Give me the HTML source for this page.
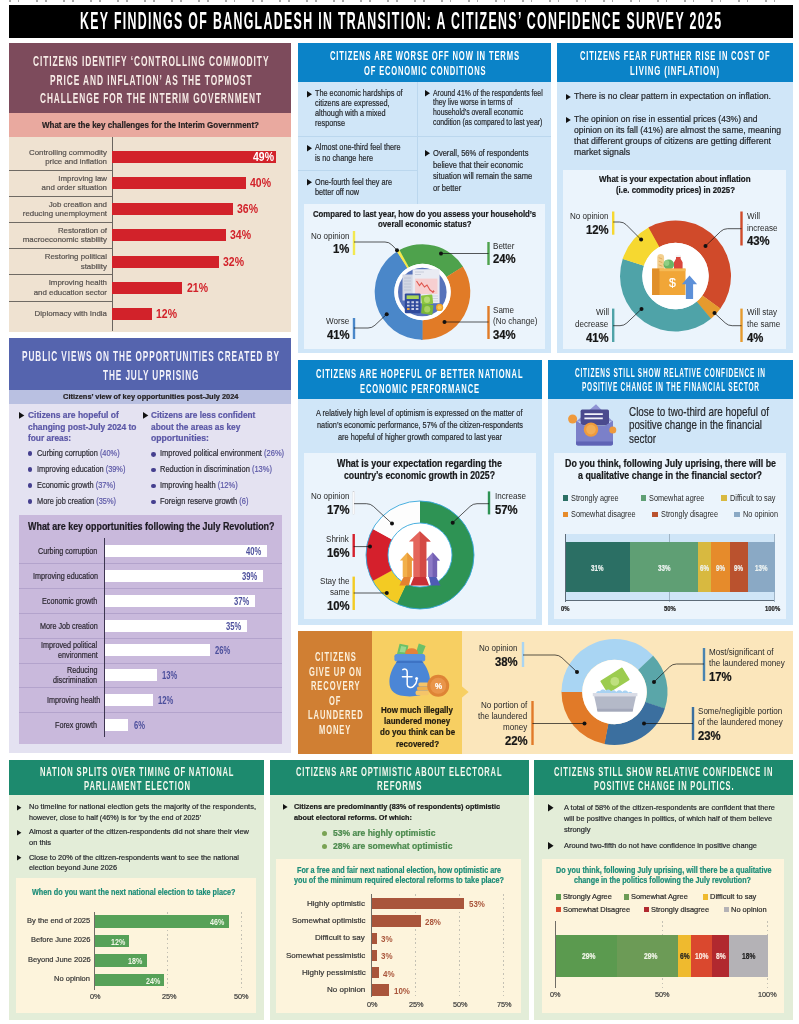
<!DOCTYPE html>
<html lang="en">
<head>
<meta charset="utf-8">
<title>Key Findings of Bangladesh in Transition: A Citizens' Confidence Survey 2025</title>
<style>
html,body{margin:0;padding:0;background:#fff;}
body{width:799px;height:1024px;overflow:hidden;font-family:"Liberation Sans",sans-serif;}
#page{position:relative;width:799px;height:1024px;overflow:hidden;background:#fff;}
#page section,#page header,#page .b,#page .t,#page .g{position:absolute;display:block;margin:0;padding:0;}
#page .t{white-space:pre;line-height:1;transform-origin:0 50%;font-weight:400;-webkit-text-stroke:0.2px currentColor;}
#page .t.k{-webkit-text-stroke:0.22px currentColor;}
#page .t.h{-webkit-text-stroke:0;}
#page svg.b{overflow:visible;}
</style>
</head>
<body>
<div id="page">
<div class="b" style="left:9px;top:0;width:783px;height:2px;opacity:.5;background:repeating-linear-gradient(90deg,#555 0 2px,transparent 2px 9px,#555 9px 10.500px,transparent 10.500px 27px)"></div>
<header class="panel" style="left:9px;top:5px;width:783.5px;height:32.5px;background:#000;">
<h1 class="t h" style="left:71px;top:4.14px;font-size:24.4px;color:#fff;font-weight:700;letter-spacing:2.6px;transform:scaleX(0.5072)">KEY FINDINGS OF BANGLADESH IN TRANSITION: A CITIZENS’ CONFIDENCE SURVEY 2025</h1>
</header>
<section class="panel" style="left:9px;top:43px;width:282.2px;height:288.5px;background:#efe2d1;">
<div class="b" style="left:0px;top:0px;width:282.2px;height:70.2px;background:#7d4b5c;"></div>
<span class="t h" style="left:23.5px;top:9.86px;font-size:15.2px;color:#f6ebe6;font-weight:700;letter-spacing:1.7px;transform:scaleX(0.5513)">CITIZENS IDENTIFY ‘CONTROLLING COMMODITY</span>
<span class="t h" style="left:40.5px;top:28.56px;font-size:15.2px;color:#f6ebe6;font-weight:700;letter-spacing:1.7px;transform:scaleX(0.5496)">PRICE AND INFLATION’ AS THE TOPMOST</span>
<span class="t h" style="left:31px;top:46.96px;font-size:15.2px;color:#f6ebe6;font-weight:700;letter-spacing:1.7px;transform:scaleX(0.5462)">CHALLENGE FOR THE INTERIM GOVERNMENT</span>
<div class="b" style="left:0px;top:70.2px;width:282.2px;height:23.4px;background:#e9a99f;"></div>
<div class="t k" style="left:33px;top:76.81px;font-size:9.6px;color:#231f20;font-weight:700;transform:scaleX(0.8324)">What are the key challenges for the Interim Government?</div>
<div class="b" style="left:0px;top:126.6px;width:103px;height:0.8px;background:#6f6a64;"></div>
<div class="b" style="left:0px;top:152.6px;width:103px;height:0.8px;background:#6f6a64;"></div>
<div class="b" style="left:0px;top:178.6px;width:103px;height:0.8px;background:#6f6a64;"></div>
<div class="b" style="left:0px;top:204.6px;width:103px;height:0.8px;background:#6f6a64;"></div>
<div class="b" style="left:0px;top:230.6px;width:103px;height:0.8px;background:#6f6a64;"></div>
<div class="b" style="left:0px;top:257.6px;width:103px;height:0.8px;background:#6f6a64;"></div>
<div class="b" style="left:102.6px;top:93.6px;width:0.8px;height:194.9px;background:#6a645f;"></div>
<div class="b" style="left:103.4px;top:108px;width:164.09px;height:12.2px;background:#d2222a;"></div>
<div class="t k h" style="left:243.51px;top:108.27px;font-size:12.2px;color:#fff;font-weight:700;transform:scaleX(0.8600)">49%</div>
<div class="t" style="left:19.94px;top:105.6px;font-size:7.9px;color:#57524f">Controlling commodity</div>
<div class="t" style="left:36.14px;top:115.1px;font-size:7.9px;color:#57524f">price and inflation</div>
<div class="b" style="left:103.4px;top:134px;width:133.88px;height:12.2px;background:#d2222a;"></div>
<div class="t k h" style="left:241.28px;top:134.27px;font-size:12.2px;color:#d2222a;font-weight:700;transform:scaleX(0.8600)">40%</div>
<div class="t" style="left:49.31px;top:131.6px;font-size:7.9px;color:#57524f">Improving law</div>
<div class="t" style="left:32.62px;top:141.1px;font-size:7.9px;color:#57524f">and order situation</div>
<div class="b" style="left:103.4px;top:160.2px;width:120.45px;height:12.2px;background:#d2222a;"></div>
<div class="t k h" style="left:227.85px;top:160.47px;font-size:12.2px;color:#d2222a;font-weight:700;transform:scaleX(0.8600)">36%</div>
<div class="t" style="left:39.66px;top:157.8px;font-size:7.9px;color:#57524f">Job creation and</div>
<div class="t" style="left:13.78px;top:167.3px;font-size:7.9px;color:#57524f">reducing unemployment</div>
<div class="b" style="left:103.4px;top:186.2px;width:113.74px;height:12.2px;background:#d2222a;"></div>
<div class="t k h" style="left:221.14px;top:186.47px;font-size:12.2px;color:#d2222a;font-weight:700;transform:scaleX(0.8600)">34%</div>
<div class="t" style="left:48.88px;top:183.8px;font-size:7.9px;color:#57524f">Restoration of</div>
<div class="t" style="left:13.8px;top:193.3px;font-size:7.9px;color:#57524f">macroeconomic stability</div>
<div class="b" style="left:103.4px;top:212.7px;width:107.02px;height:12.2px;background:#d2222a;"></div>
<div class="t k h" style="left:214.42px;top:212.97px;font-size:12.2px;color:#d2222a;font-weight:700;transform:scaleX(0.8600)">32%</div>
<div class="t" style="left:35.72px;top:210.3px;font-size:7.9px;color:#57524f">Restoring political</div>
<div class="t" style="left:71.69px;top:219.8px;font-size:7.9px;color:#57524f">stability</div>
<div class="b" style="left:103.4px;top:238.7px;width:70.1px;height:12.2px;background:#d2222a;"></div>
<div class="t k h" style="left:177.5px;top:238.97px;font-size:12.2px;color:#d2222a;font-weight:700;transform:scaleX(0.8600)">21%</div>
<div class="t" style="left:39.66px;top:236.3px;font-size:7.9px;color:#57524f">Improving health</div>
<div class="t" style="left:24.73px;top:245.8px;font-size:7.9px;color:#57524f">and education sector</div>
<div class="b" style="left:103.4px;top:265px;width:39.88px;height:12.2px;background:#d2222a;"></div>
<div class="t k h" style="left:147.28px;top:265.27px;font-size:12.2px;color:#d2222a;font-weight:700;transform:scaleX(0.8600)">12%</div>
<div class="t" style="left:25.62px;top:267.4px;font-size:7.9px;color:#57524f">Diplomacy with India</div>
</section>
<section class="panel" style="left:9px;top:338px;width:282.2px;height:415.4px;background:#e4e2f1;">
<div class="b" style="left:0px;top:0px;width:282.2px;height:52px;background:#5564ae;"></div>
<span class="t h" style="left:13px;top:10.36px;font-size:15.2px;color:#f3f2fa;font-weight:700;letter-spacing:1.7px;transform:scaleX(0.5417)">PUBLIC VIEWS ON THE OPPORTUNITIES CREATED BY</span>
<span class="t h" style="left:93.5px;top:29.16px;font-size:15.2px;color:#f3f2fa;font-weight:700;letter-spacing:1.7px;transform:scaleX(0.5408)">THE JULY UPRISING</span>
<div class="b" style="left:0px;top:52px;width:282.2px;height:13.6px;background:#b9c0e1;"></div>
<div class="t k" style="left:53.5px;top:55.09px;font-size:7.4px;color:#231f20;font-weight:700;transform:scaleX(1.0078)">Citizens’ view of key opportunities post-July 2024</div>
<svg class="b" style="left:10px;top:74px" width="5.3" height="6.8" viewBox="0 0 5.3 6.8"><path d="M0 0L5.3 3.4L0 6.8Z" fill="#111"/></svg>
<div class="t k" style="left:18.5px;top:73.49px;font-size:8.6px;color:#5b57a6;font-weight:700;transform:scaleX(0.9853)">Citizens are hopeful of</div>
<div class="t k" style="left:18.5px;top:84.59px;font-size:8.6px;color:#5b57a6;font-weight:700;transform:scaleX(0.9793)">changing post-July 2024 to</div>
<div class="t k" style="left:18.5px;top:95.69px;font-size:8.6px;color:#5b57a6;font-weight:700;transform:scaleX(0.9702)">four areas:</div>
<div class="b" style="left:18.6px;top:113.4px;width:4.8px;height:4.8px;border-radius:50%;background:#453f8f"></div>
<div class="t" style="left:27.5px;top:111.44px;font-size:9.2px;color:#2b2a33;transform:scaleX(0.8050)">Curbing corruption <span style="color:#5b57a6">(40%)</span></div>
<div class="b" style="left:18.6px;top:129.3px;width:4.8px;height:4.8px;border-radius:50%;background:#453f8f"></div>
<div class="t" style="left:27.5px;top:127.34px;font-size:9.2px;color:#2b2a33;transform:scaleX(0.8050)">Improving education <span style="color:#5b57a6">(39%)</span></div>
<div class="b" style="left:18.6px;top:145.2px;width:4.8px;height:4.8px;border-radius:50%;background:#453f8f"></div>
<div class="t" style="left:27.5px;top:143.24px;font-size:9.2px;color:#2b2a33;transform:scaleX(0.8050)">Economic growth <span style="color:#5b57a6">(37%)</span></div>
<div class="b" style="left:18.6px;top:161.1px;width:4.8px;height:4.8px;border-radius:50%;background:#453f8f"></div>
<div class="t" style="left:27.5px;top:159.14px;font-size:9.2px;color:#2b2a33;transform:scaleX(0.8050)">More job creation <span style="color:#5b57a6">(35%)</span></div>
<svg class="b" style="left:134px;top:74px" width="5.3" height="6.8" viewBox="0 0 5.3 6.8"><path d="M0 0L5.3 3.4L0 6.8Z" fill="#111"/></svg>
<div class="t k" style="left:142px;top:73.49px;font-size:8.6px;color:#5b57a6;font-weight:700;transform:scaleX(0.9620)">Citizens are less confident</div>
<div class="t k" style="left:142px;top:84.59px;font-size:8.6px;color:#5b57a6;font-weight:700;transform:scaleX(0.9685)">about the areas as key</div>
<div class="t k" style="left:142px;top:95.69px;font-size:8.6px;color:#5b57a6;font-weight:700;transform:scaleX(1.0041)">opportunities:</div>
<div class="b" style="left:142.1px;top:113.8px;width:4.8px;height:4.8px;border-radius:50%;background:#453f8f"></div>
<div class="t" style="left:151px;top:111.44px;font-size:9.2px;color:#2b2a33;transform:scaleX(0.8180)">Improved political environment <span style="color:#5b57a6">(26%)</span></div>
<div class="b" style="left:142.1px;top:129.7px;width:4.8px;height:4.8px;border-radius:50%;background:#453f8f"></div>
<div class="t" style="left:151px;top:127.34px;font-size:9.2px;color:#2b2a33;transform:scaleX(0.8180)">Reduction in discrimination <span style="color:#5b57a6">(13%)</span></div>
<div class="b" style="left:142.1px;top:145.6px;width:4.8px;height:4.8px;border-radius:50%;background:#453f8f"></div>
<div class="t" style="left:151px;top:143.24px;font-size:9.2px;color:#2b2a33;transform:scaleX(0.8180)">Improving health <span style="color:#5b57a6">(12%)</span></div>
<div class="b" style="left:142.1px;top:161.5px;width:4.8px;height:4.8px;border-radius:50%;background:#453f8f"></div>
<div class="t" style="left:151px;top:159.14px;font-size:9.2px;color:#2b2a33;transform:scaleX(0.8180)">Foreign reserve growth <span style="color:#5b57a6">(6)</span></div>
<div class="b" style="left:10px;top:176.6px;width:263px;height:229.6px;background:#c9b9dc;"></div>
<div class="t k" style="left:18.5px;top:184.14px;font-size:10.4px;color:#1d1a22;font-weight:700;transform:scaleX(0.8591)">What are key opportunities following the July Revolution?</div>
<div class="b" style="left:10px;top:224.5px;width:263px;height:1px;background:#b3a3cc;"></div>
<div class="b" style="left:10px;top:249.5px;width:263px;height:1px;background:#b3a3cc;"></div>
<div class="b" style="left:10px;top:274.5px;width:263px;height:1px;background:#b3a3cc;"></div>
<div class="b" style="left:10px;top:299.5px;width:263px;height:1px;background:#b3a3cc;"></div>
<div class="b" style="left:10px;top:324.5px;width:263px;height:1px;background:#b3a3cc;"></div>
<div class="b" style="left:10px;top:349px;width:263px;height:1px;background:#b3a3cc;"></div>
<div class="b" style="left:10px;top:373.7px;width:263px;height:1px;background:#b3a3cc;"></div>
<div class="b" style="left:94.8px;top:200px;width:0.8px;height:199px;background:#3d3550;"></div>
<div class="b" style="left:95.6px;top:207px;width:162.4px;height:12px;background:#fff;"></div>
<div class="t k h" style="left:237.23px;top:208.17px;font-size:10.6px;color:#4c4f9c;font-weight:700;transform:scaleX(0.7200)">40%</div>
<div class="t" style="left:29.15px;top:209.07px;font-size:8.8px;color:#2b2730;transform:scaleX(0.8200)">Curbing corruption</div>
<div class="b" style="left:95.6px;top:231.8px;width:158.33px;height:12px;background:#fff;"></div>
<div class="t k h" style="left:233.16px;top:232.97px;font-size:10.6px;color:#4c4f9c;font-weight:700;transform:scaleX(0.7200)">39%</div>
<div class="t" style="left:23.53px;top:233.87px;font-size:8.8px;color:#2b2730;transform:scaleX(0.8200)">Improving education</div>
<div class="b" style="left:95.6px;top:257px;width:150.18px;height:12px;background:#fff;"></div>
<div class="t k h" style="left:225.01px;top:258.17px;font-size:10.6px;color:#4c4f9c;font-weight:700;transform:scaleX(0.7200)">37%</div>
<div class="t" style="left:33.16px;top:259.07px;font-size:8.8px;color:#2b2730;transform:scaleX(0.8200)">Economic growth</div>
<div class="b" style="left:95.6px;top:282px;width:142.03px;height:12px;background:#fff;"></div>
<div class="t k h" style="left:216.86px;top:283.17px;font-size:10.6px;color:#4c4f9c;font-weight:700;transform:scaleX(0.7200)">35%</div>
<div class="t" style="left:30.75px;top:284.07px;font-size:8.8px;color:#2b2730;transform:scaleX(0.8200)">More Job creation</div>
<div class="b" style="left:95.6px;top:306.3px;width:105.35px;height:12px;background:#fff;"></div>
<div class="t k h" style="left:206.45px;top:307.47px;font-size:10.6px;color:#4c4f9c;font-weight:700;transform:scaleX(0.7200)">26%</div>
<div class="t" style="left:32.37px;top:303.37px;font-size:8.8px;color:#2b2730;transform:scaleX(0.8200)">Improved political</div>
<div class="t" style="left:48.79px;top:312.67px;font-size:8.8px;color:#2b2730;transform:scaleX(0.8200)">environment</div>
<div class="b" style="left:95.6px;top:331.2px;width:52.38px;height:12px;background:#fff;"></div>
<div class="t k h" style="left:153.47px;top:332.37px;font-size:10.6px;color:#4c4f9c;font-weight:700;transform:scaleX(0.7200)">13%</div>
<div class="t" style="left:58.02px;top:328.27px;font-size:8.8px;color:#2b2730;transform:scaleX(0.8200)">Reducing</div>
<div class="t" style="left:44.4px;top:337.57px;font-size:8.8px;color:#2b2730;transform:scaleX(0.8200)">discrimination</div>
<div class="b" style="left:95.6px;top:356.2px;width:48.3px;height:12px;background:#fff;"></div>
<div class="t k h" style="left:149.4px;top:357.37px;font-size:10.6px;color:#4c4f9c;font-weight:700;transform:scaleX(0.7200)">12%</div>
<div class="t" style="left:38.16px;top:358.27px;font-size:8.8px;color:#2b2730;transform:scaleX(0.8200)">Improving health</div>
<div class="b" style="left:95.6px;top:381px;width:23.85px;height:12px;background:#fff;"></div>
<div class="t k h" style="left:124.95px;top:382.17px;font-size:10.6px;color:#4c4f9c;font-weight:700;transform:scaleX(0.7200)">6%</div>
<div class="t" style="left:46.4px;top:383.07px;font-size:8.8px;color:#2b2730;transform:scaleX(0.8200)">Forex growth</div>
</section>
<section class="panel" style="left:297.5px;top:43px;width:253.5px;height:310px;background:#d0e6f8;">
<div class="b" style="left:0px;top:0px;width:253.5px;height:39px;background:#0b83c8;"></div>
<span class="t h" style="left:32.5px;top:6.17px;font-size:13.6px;color:#fff;font-weight:700;letter-spacing:1.5px;transform:scaleX(0.5613)">CITIZENS ARE WORSE OFF NOW IN TERMS</span>
<span class="t h" style="left:66.5px;top:20.97px;font-size:13.6px;color:#fff;font-weight:700;letter-spacing:1.5px;transform:scaleX(0.5572)">OF ECONOMIC CONDITIONS</span>
<div class="b" style="left:0px;top:93.2px;width:253.5px;height:0.8px;background:#bbd7ee;"></div>
<div class="b" style="left:0px;top:126.8px;width:120px;height:0.8px;background:#bbd7ee;"></div>
<div class="b" style="left:119.6px;top:39px;width:0.8px;height:122px;background:#bbd7ee;"></div>
<svg class="b" style="left:9.4px;top:47.6px" width="5" height="6.4" viewBox="0 0 5 6.4"><path d="M0 0L5 3.2L0 6.4Z" fill="#111"/></svg>
<div class="t" style="left:17px;top:46.23px;font-size:8.7px;color:#26282c;transform:scaleX(0.8400)">The economic hardships of</div>
<div class="t" style="left:17px;top:56.13px;font-size:8.7px;color:#26282c;transform:scaleX(0.8400)">citizens are expressed,</div>
<div class="t" style="left:17px;top:65.93px;font-size:8.7px;color:#26282c;transform:scaleX(0.8400)">although with a mixed</div>
<div class="t" style="left:17px;top:75.73px;font-size:8.7px;color:#26282c;transform:scaleX(0.8400)">response</div>
<svg class="b" style="left:9.4px;top:101.7px" width="5" height="6.4" viewBox="0 0 5 6.4"><path d="M0 0L5 3.2L0 6.4Z" fill="#111"/></svg>
<div class="t" style="left:17px;top:100.33px;font-size:8.7px;color:#26282c;transform:scaleX(0.8400)">Almost one-third feel there</div>
<div class="t" style="left:17px;top:110.53px;font-size:8.7px;color:#26282c;transform:scaleX(0.8400)">is no change here</div>
<svg class="b" style="left:9.4px;top:136.3px" width="5" height="6.4" viewBox="0 0 5 6.4"><path d="M0 0L5 3.2L0 6.4Z" fill="#111"/></svg>
<div class="t" style="left:17px;top:134.93px;font-size:8.7px;color:#26282c;transform:scaleX(0.8400)">One-fourth feel they are</div>
<div class="t" style="left:17px;top:145.33px;font-size:8.7px;color:#26282c;transform:scaleX(0.8400)">better off now</div>
<svg class="b" style="left:127.9px;top:47.3px" width="5" height="6.4" viewBox="0 0 5 6.4"><path d="M0 0L5 3.2L0 6.4Z" fill="#111"/></svg>
<div class="t" style="left:135.5px;top:45.99px;font-size:8.6px;color:#26282c;transform:scaleX(0.8000)">Around 41% of the respondents feel</div>
<div class="t" style="left:135.5px;top:55.49px;font-size:8.6px;color:#26282c;transform:scaleX(0.8000)">they live worse in terms of</div>
<div class="t" style="left:135.5px;top:64.99px;font-size:8.6px;color:#26282c;transform:scaleX(0.8000)">household’s overall economic</div>
<div class="t" style="left:135.5px;top:74.59px;font-size:8.6px;color:#26282c;transform:scaleX(0.8000)">condition (as compared to last year)</div>
<svg class="b" style="left:127.9px;top:107.3px" width="5" height="6.4" viewBox="0 0 5 6.4"><path d="M0 0L5 3.2L0 6.4Z" fill="#111"/></svg>
<div class="t" style="left:135.5px;top:105.87px;font-size:8.8px;color:#26282c;transform:scaleX(0.8600)">Overall, 56% of respondents</div>
<div class="t" style="left:135.5px;top:117.67px;font-size:8.8px;color:#26282c;transform:scaleX(0.8600)">believe that their economic</div>
<div class="t" style="left:135.5px;top:129.47px;font-size:8.8px;color:#26282c;transform:scaleX(0.8600)">situation will remain the same</div>
<div class="t" style="left:135.5px;top:140.97px;font-size:8.8px;color:#26282c;transform:scaleX(0.8600)">or better</div>
<div class="b" style="left:6.5px;top:161px;width:241px;height:144.5px;background:#ebf4fc;"></div>
<div class="t k" style="left:15.5px;top:165.57px;font-size:9.5px;color:#17181a;font-weight:700;transform:scaleX(0.8165)">Compared to last year, how do you assess your household’s</div>
<div class="t k" style="left:80px;top:176.47px;font-size:9.5px;color:#17181a;font-weight:700;transform:scaleX(0.8198)">overall economic status?</div>
<svg class="b" style="left:6.5px;top:161px;" width="241" height="144.5" viewBox="304 204 241 144.5"><path d="M422.5 339.8A47.8 47.8 0 0 1 397.17 251.46L407.56 268.09A28.2 28.2 0 0 0 422.5 320.2Z" fill="#4a87c9" /><path d="M396.89 251.64A47.8 47.8 0 0 1 399.77 249.95L409.09 267.19A28.2 28.2 0 0 0 407.39 268.19Z" fill="#f4e84a" /><path d="M399.47 250.11A47.8 47.8 0 0 1 463.04 266.67L446.41 277.06A28.2 28.2 0 0 0 408.91 267.29Z" fill="#4ea24c" /><path d="M462.86 266.39A47.8 47.8 0 0 1 422.17 339.8L422.3 320.2A28.2 28.2 0 0 0 446.31 276.89Z" fill="#e17b27" /><path d="M422.5 339.8A47.8 47.8 0 0 1 420.83 339.77L421.52 320.18A28.2 28.2 0 0 0 422.5 320.2Z" fill="#4a87c9" /><circle cx="422.5" cy="292" r="28.2" fill="#fff"/><g><circle cx="422.3" cy="292" r="24.3" fill="#5672ba"/><path d="M402.5 274.5h11v26h-11z" fill="#d3d7e4"/><path d="M404 278h7M404 281h7M404 284h7M404 287h7M404 290h7" stroke="#b9bfd2" stroke-width=".8"/><path d="M412.6 269.2h27v34h-27z" fill="#e9ebf3"/><path d="M415 272h9M415 274.5h6" stroke="#c3c8d8" stroke-width=".9"/><path d="M415 278.6h22.5v15.4H415z" fill="#f6cfd0"/><path d="M416.5 281l3 4.5 2-2.5 3 4 2.5-2 3 5 3.5 2.5" fill="none" stroke="#e0564f" stroke-width="1.1"/><path d="M434.8 291.5l-2.8 1.6 1.2-3.2z" fill="#e0564f"/><path d="M432 296h6M432 298.5h6M432 301h6" stroke="#c8ccda" stroke-width=".8"/><rect x="404.8" y="293.4" width="15.8" height="19.8" rx="1.2" fill="#2f4a9b"/><rect x="406.6" y="295.4" width="12.2" height="3.6" fill="#a9d456"/><path d="M407 302.2h2.6M411.4 302.2h2.6M415.8 302.2h2.6M407 305.6h2.6M411.4 305.6h2.6M415.8 305.6h2.6M411.4 309h2.6M415.8 309h2.6" stroke="#c9cfe6" stroke-width="1.9"/><path d="M407 309h2.6" stroke="#f3a93c" stroke-width="1.9"/><rect x="421.4" y="295" width="11.4" height="9.6" rx="1" fill="#8cc540" transform="rotate(-6 427 300)"/><rect x="421.6" y="304.4" width="11.4" height="9.8" rx="1" fill="#7ab738" transform="rotate(7 427 309)"/><ellipse cx="427" cy="299.8" rx="3" ry="3.2" fill="#b6dc73"/><ellipse cx="427.2" cy="309.2" rx="3" ry="3.2" fill="#a8d263"/><circle cx="439.6" cy="307.4" r="3.6" fill="#f4a428"/><circle cx="439.6" cy="307.4" r="2.1" fill="#f8c15a"/></g><rect x="352.8" y="231" width="2.4" height="24" fill="#f2e850"/><path d="M354 242L385 242Q389 242 391.79 244.86L397 250.2" fill="none" stroke="#111" stroke-width="0.7"/><circle cx="397" cy="250.2" r="2.0" fill="#111"/><rect x="487.3" y="242" width="2.4" height="23" fill="#4ea24c"/><path d="M488.5 253.5L441 253.5" fill="none" stroke="#111" stroke-width="0.7"/><circle cx="441" cy="253.5" r="2.0" fill="#111"/><rect x="352.8" y="318" width="2.4" height="21" fill="#4a87c9"/><path d="M354 328L368 328Q372 328 374.92 325.26L386.7 314.2" fill="none" stroke="#111" stroke-width="0.7"/><circle cx="386.7" cy="314.2" r="2.0" fill="#111"/><rect x="487.3" y="306" width="2.4" height="33" fill="#e17b27"/><path d="M488.5 322L444.5 322" fill="none" stroke="#111" stroke-width="0.7"/><circle cx="444.5" cy="322" r="2.0" fill="#111"/></svg>
<div class="t h" style="left:13.47px;top:187.81px;font-size:9.6px;color:#2a2a2a;transform:scaleX(0.8400)">No opinion</div>
<div class="t k" style="left:35.62px;top:200.07px;font-size:12.6px;color:#151515;font-weight:700;transform:scaleX(0.9000)">1%</div>
<div class="t h" style="left:195.5px;top:198.41px;font-size:9.6px;color:#2a2a2a;transform:scaleX(0.8400)">Better</div>
<div class="t k" style="left:195.5px;top:210.47px;font-size:12.6px;color:#151515;font-weight:700;transform:scaleX(0.9000)">24%</div>
<div class="t h" style="left:28.86px;top:273.41px;font-size:9.6px;color:#2a2a2a;transform:scaleX(0.8400)">Worse</div>
<div class="t k" style="left:29.3px;top:286.07px;font-size:12.6px;color:#151515;font-weight:700;transform:scaleX(0.9000)">41%</div>
<div class="t h" style="left:195.5px;top:262.41px;font-size:9.6px;color:#2a2a2a;transform:scaleX(0.8400)">Same</div>
<div class="t h" style="left:195.5px;top:273.01px;font-size:9.6px;color:#2a2a2a;transform:scaleX(0.8400)">(No change)</div>
<div class="t k" style="left:195.5px;top:286.07px;font-size:12.6px;color:#151515;font-weight:700;transform:scaleX(0.9000)">34%</div>
</section>
<section class="panel" style="left:557px;top:43px;width:235.5px;height:310px;background:#d0e6f8;">
<div class="b" style="left:0px;top:0px;width:235.5px;height:39px;background:#0b83c8;"></div>
<span class="t h" style="left:22.5px;top:6.17px;font-size:13.6px;color:#fff;font-weight:700;letter-spacing:1.5px;transform:scaleX(0.5533)">CITIZENS FEAR FURTHER RISE IN COST OF</span>
<span class="t h" style="left:73px;top:20.97px;font-size:13.6px;color:#fff;font-weight:700;letter-spacing:1.5px;transform:scaleX(0.5737)">LIVING (INFLATION)</span>
<svg class="b" style="left:8.6px;top:50.6px" width="4.8" height="6" viewBox="0 0 4.8 6"><path d="M0 0L4.8 3L0 6Z" fill="#111"/></svg>
<div class="t" style="left:17px;top:49.19px;font-size:8.6px;color:#26282c;transform:scaleX(1.0107)">There is no clear pattern in expectation on inflation.</div>
<svg class="b" style="left:8.6px;top:74px" width="4.8" height="6" viewBox="0 0 4.8 6"><path d="M0 0L4.8 3L0 6Z" fill="#111"/></svg>
<div class="t" style="left:17px;top:72.39px;font-size:8.6px;color:#26282c;transform:scaleX(0.9875)">The opinion on rise in essential prices (43%) and</div>
<div class="t" style="left:17px;top:83.39px;font-size:8.6px;color:#26282c;transform:scaleX(0.9985)">opinion on its fall (41%) are almost the same, meaning</div>
<div class="t" style="left:17px;top:94.39px;font-size:8.6px;color:#26282c;transform:scaleX(1.0198)">that different groups of citizens are getting different</div>
<div class="t" style="left:17px;top:105.19px;font-size:8.6px;color:#26282c;transform:scaleX(1.0107)">market signals</div>
<div class="b" style="left:5.5px;top:127px;width:223.5px;height:178.5px;background:#ebf4fc;"></div>
<div class="t k" style="left:42px;top:130.97px;font-size:9.5px;color:#17181a;font-weight:700;transform:scaleX(0.8393)">What is your expectation about inflation</div>
<div class="t k" style="left:58.5px;top:142.37px;font-size:9.5px;color:#17181a;font-weight:700;transform:scaleX(0.8256)">(i.e. commodity prices) in 2025?</div>
<svg class="b" style="left:5.5px;top:127px;" width="223.5" height="178.5" viewBox="562.5 170 223.5 178.5"><path d="M648.09 227.46A55.5 55.5 0 0 1 719.79 308.78L701.79 295.61A33.2 33.2 0 0 0 658.9 246.96Z" fill="#d04a2a" /><path d="M720.01 308.47A55.5 55.5 0 0 1 710.23 318.89L696.07 301.65A33.2 33.2 0 0 0 701.93 295.42Z" fill="#e59a2e" /><path d="M710.53 318.64A55.5 55.5 0 0 1 622.28 258.67L643.46 265.63A33.2 33.2 0 0 0 696.25 301.51Z" fill="#4fa3a8" /><path d="M622.16 259.03A55.5 55.5 0 0 1 648.43 227.27L659.11 246.85A33.2 33.2 0 0 0 643.39 265.85Z" fill="#f6d830" /><path d="M648.09 227.46A55.5 55.5 0 0 1 649.8 226.55L659.93 246.42A33.2 33.2 0 0 0 658.9 246.96Z" fill="#d04a2a" /><circle cx="675" cy="276" r="33.2" fill="#fff"/><g><path d="M656.8 269V257.4a3.4 3.4 0 0 1 6.8 0V269z" fill="#f3cf8e"/><path d="M658.2 257.6l3.6 1.4M658.2 261.2l3.6 1.4M658.2 264.8l3.600 1.400" stroke="#e0a95a" stroke-width=".9"/><ellipse cx="668.3" cy="264.6" rx="5.3" ry="5" fill="#6ab565"/><ellipse cx="666.2" cy="263" rx="2.6" ry="3" fill="#8fcf83"/><path d="M675.5 256.4h4.6v2.400l2 3.400v7h-8.600v-7l2-3.400z" fill="#d9463c"/><rect x="675.2" y="255.2" width="5.2" height="1.8" fill="#f3f3f3"/><rect x="651.6" y="268.6" width="33.400" height="26.400" fill="#f1a637"/><rect x="651.6" y="268.6" width="7.4" height="26.4" fill="#e08f2a"/><rect x="659" y="268.6" width="26" height="2.6" fill="#f6ba55"/><path d="M689 275.6l7.6 8.600h-4v14.800h-7.200v-14.800h-4z" fill="#5d90d8"/></g><rect x="611.5" y="211.5" width="2.4" height="23.2" fill="#f6d830"/><path d="M612.7 222L619 222Q623 222 625.83 224.83L640.6 239.6" fill="none" stroke="#111" stroke-width="0.7"/><circle cx="640.6" cy="239.6" r="2.0" fill="#111"/><rect x="739.8" y="211.5" width="2.4" height="34" fill="#d04a2a"/><path d="M741 228.7L727 228.7Q723 228.7 720.12 231.47L705 246" fill="none" stroke="#111" stroke-width="0.7"/><circle cx="705" cy="246" r="2.0" fill="#111"/><rect x="611.5" y="308.6" width="2.4" height="33.4" fill="#4fa3a8"/><path d="M612.7 325.7L619.5 325.7Q623.5 325.7 626.39 322.94L641 309" fill="none" stroke="#111" stroke-width="0.7"/><circle cx="641" cy="309" r="2.0" fill="#111"/><rect x="739.8" y="308.6" width="2.4" height="33.4" fill="#e59a2e"/><path d="M741 325.7L731.7 325.7Q727.7 325.7 724.77 322.98L714 313" fill="none" stroke="#111" stroke-width="0.7"/><circle cx="714" cy="313" r="2.0" fill="#111"/></svg>
<div class="t" style="left:112.06px;top:233.07px;font-size:13px;color:#fff;transform:scaleX(0.9500)">$</div>
<div class="t h" style="left:12.97px;top:167.81px;font-size:9.6px;color:#2a2a2a;transform:scaleX(0.8400)">No opinion</div>
<div class="t k" style="left:28.8px;top:180.57px;font-size:12.6px;color:#151515;font-weight:700;transform:scaleX(0.9000)">12%</div>
<div class="t h" style="left:189.6px;top:167.81px;font-size:9.6px;color:#2a2a2a;transform:scaleX(0.8400)">Will</div>
<div class="t h" style="left:189.6px;top:179.61px;font-size:9.6px;color:#2a2a2a;transform:scaleX(0.8400)">increase</div>
<div class="t k" style="left:189.6px;top:192.07px;font-size:12.6px;color:#151515;font-weight:700;transform:scaleX(0.9000)">43%</div>
<div class="t h" style="left:38.52px;top:264.41px;font-size:9.6px;color:#2a2a2a;transform:scaleX(0.8400)">Will</div>
<div class="t h" style="left:18.35px;top:275.81px;font-size:9.6px;color:#2a2a2a;transform:scaleX(0.8400)">decrease</div>
<div class="t k" style="left:28.8px;top:288.67px;font-size:12.6px;color:#151515;font-weight:700;transform:scaleX(0.9000)">41%</div>
<div class="t h" style="left:189.6px;top:264.41px;font-size:9.6px;color:#2a2a2a;transform:scaleX(0.8400)">Will stay</div>
<div class="t h" style="left:189.6px;top:275.81px;font-size:9.6px;color:#2a2a2a;transform:scaleX(0.8400)">the same</div>
<div class="t k" style="left:189.6px;top:288.67px;font-size:12.6px;color:#151515;font-weight:700;transform:scaleX(0.9000)">4%</div>
</section>
<section class="panel" style="left:297.5px;top:360px;width:244px;height:264.5px;background:#d0e6f8;">
<div class="b" style="left:0px;top:0px;width:244px;height:38.5px;background:#0b83c8;"></div>
<span class="t h" style="left:18.5px;top:7.17px;font-size:13.6px;color:#fff;font-weight:700;letter-spacing:1.5px;transform:scaleX(0.5533)">CITIZENS ARE HOPEFUL OF BETTER NATIONAL</span>
<span class="t h" style="left:62.5px;top:21.77px;font-size:13.6px;color:#fff;font-weight:700;letter-spacing:1.5px;transform:scaleX(0.5573)">ECONOMIC PERFORMANCE</span>
<div class="t" style="left:18.5px;top:49.27px;font-size:8.8px;color:#26282c;transform:scaleX(0.8413)">A relatively high level of optimism is expressed on the matter of</div>
<div class="t" style="left:19px;top:61.37px;font-size:8.8px;color:#26282c;transform:scaleX(0.8314)">nation’s economic performance, 57% of the citizen-respondents</div>
<div class="t" style="left:40px;top:73.17px;font-size:8.8px;color:#26282c;transform:scaleX(0.8343)">are hopeful of higher growth compared to last year</div>
<div class="b" style="left:6.5px;top:93px;width:232px;height:166px;background:#ebf4fc;"></div>
<div class="t k" style="left:39.5px;top:98.11px;font-size:10.8px;color:#17181a;font-weight:700;transform:scaleX(0.8259)">What is your expectation regarding the</div>
<div class="t k" style="left:46.5px;top:110.11px;font-size:10.8px;color:#17181a;font-weight:700;transform:scaleX(0.8084)">country’s economic growth in 2025?</div>
<svg class="b" style="left:6.5px;top:93px;" width="232" height="166" viewBox="304 453 232 166"><path d="M420 501A54 54 0 1 1 396.67 603.7L406.17 583.86A32 32 0 1 0 420 523Z" fill="#2e9354" /><path d="M397.01 603.86A54 54 0 0 1 372.5 580.68L391.85 570.22A32 32 0 0 0 406.38 583.95Z" fill="#f3cb23" /><path d="M372.68 581.01A54 54 0 0 1 372.86 528.66L392.07 539.39A32 32 0 0 0 391.96 570.42Z" fill="#d5202c" /><path d="M372.68 528.99A54 54 0 0 1 420.38 501L420.22 523A32 32 0 0 0 391.96 539.58Z" fill="#fdfdfd" /><path d="M420 501A54 54 0 0 1 421.88 501.03L421.12 523.02A32 32 0 0 0 420 523Z" fill="#2e9354" /><circle cx="420" cy="555" r="32" fill="#fff"/><circle cx="420" cy="555" r="54" fill="none" stroke="#35a7db" stroke-width="0.9"/><circle cx="420" cy="555" r="32" fill="none" stroke="#35a7db" stroke-width="0.9"/><g><path d="M407.2 552.6L414.5 560.6H411.7V577H402.7V560.6H399.9Z" fill="#f2b04a"/><path d="M407.2 552.6L414.5 560.6H411.7V577H407.2Z" fill="#e99a3a"/><path d="M432.6 552.6L439.9 560.6H437.1V577H428.1V560.6H425.3Z" fill="#8d7ac6"/><path d="M432.6 552.6L439.9 560.6H437.1V577H432.6Z" fill="#7461b4"/><path d="M419.8 531.2L430.7 541.6H426.3V577H413.3V541.6H408.9Z" fill="#e4655c"/><path d="M419.8 531.2L430.7 541.6H426.3V577H419.8Z" fill="#d44a45"/><path d="M403.500 577h7.400l-2 8.400h-9.600z" fill="#e5822f"/><path d="M428.900 577h7.400l4.200 8.400h-9.600z" fill="#4e5bb5"/><path d="M413.800 577h12l3.400 8.400h-18.800z" fill="#c92f35"/></g><rect x="352.5" y="491.4" width="2.4" height="23" fill="#fff"/><rect x="352.9" y="491.400" width="1.600" height="23" fill="none" stroke="#c8ccd2" stroke-width=".4"/><path d="M354 503.7L366.5 503.7Q370.5 503.7 373.44 506.42L392 523.6" fill="none" stroke="#111" stroke-width="0.7"/><circle cx="392" cy="523.6" r="2.0" fill="#111"/><rect x="487.8" y="491.4" width="2.4" height="23" fill="#2e9354"/><path d="M489 503.7L477 503.7Q473 503.7 470.08 506.43L452.7 522.7" fill="none" stroke="#111" stroke-width="0.7"/><circle cx="452.7" cy="522.7" r="2.0" fill="#111"/><rect x="352.5" y="534" width="2.4" height="23" fill="#d5202c"/><path d="M353.7 546.6L370 546.6" fill="none" stroke="#111" stroke-width="0.7"/><circle cx="370" cy="546.6" r="2.0" fill="#111"/><rect x="352.5" y="576.6" width="2.4" height="33.4" fill="#f3cb23"/><path d="M353.7 593L386.8 593" fill="none" stroke="#111" stroke-width="0.7"/><circle cx="386.8" cy="593" r="2.0" fill="#111"/></svg>
<div class="t h" style="left:13.26px;top:131.41px;font-size:9.6px;color:#2a2a2a;transform:scaleX(0.8400)">No opinion</div>
<div class="t k" style="left:29.1px;top:144.27px;font-size:12.6px;color:#151515;font-weight:700;transform:scaleX(0.9000)">17%</div>
<div class="t h" style="left:197.2px;top:131.41px;font-size:9.6px;color:#2a2a2a;transform:scaleX(0.8400)">Increase</div>
<div class="t k" style="left:197.2px;top:144.07px;font-size:12.6px;color:#151515;font-weight:700;transform:scaleX(0.9000)">57%</div>
<div class="t h" style="left:28.95px;top:174.21px;font-size:9.6px;color:#2a2a2a;transform:scaleX(0.8400)">Shrink</div>
<div class="t k" style="left:29.1px;top:186.87px;font-size:12.6px;color:#151515;font-weight:700;transform:scaleX(0.9000)">16%</div>
<div class="t h" style="left:22.23px;top:216.21px;font-size:9.6px;color:#2a2a2a;transform:scaleX(0.8400)">Stay the</div>
<div class="t h" style="left:32.09px;top:227.01px;font-size:9.6px;color:#2a2a2a;transform:scaleX(0.8400)">same</div>
<div class="t k" style="left:29.1px;top:239.67px;font-size:12.6px;color:#151515;font-weight:700;transform:scaleX(0.9000)">10%</div>
</section>
<section class="panel" style="left:548px;top:360px;width:244.5px;height:264.5px;background:#d0e6f8;">
<div class="b" style="left:0px;top:0px;width:244.5px;height:38.5px;background:#0b83c8;"></div>
<span class="t h" style="left:27px;top:6.97px;font-size:12.8px;color:#fff;font-weight:700;letter-spacing:1.5px;transform:scaleX(0.5102)">CITIZENS STILL SHOW RELATIVE CONFIDENCE IN</span>
<span class="t h" style="left:34px;top:21.37px;font-size:12.8px;color:#fff;font-weight:700;letter-spacing:1.5px;transform:scaleX(0.5065)">POSITIVE CHANGE IN THE FINANCIAL SECTOR</span>
<svg class="b" style="left:17px;top:42px;" width="55" height="46" viewBox="565 402 55 46"><g><path d="M576.200 421.500L596 404.200 612.800 421.500z" fill="#8f93d4"/><rect x="580.6" y="409.600" width="28.400" height="16" rx="1.600" fill="#4b4a8e"/><path d="M584.400 414.200h18.400M584.400 418.400h18.400" stroke="#f2f2fa" stroke-width="1.700"/><path d="M576 420.400l8.600 5.600h20l8.400-5.600v23a2 2 0 0 1-2 2H578a2 2 0 0 1-2-2z" fill="#7b80c9"/><path d="M576 441.600h37v1.800a2 2 0 0 1-2 2H578a2 2 0 0 1-2-2z" fill="#5f63b5"/><circle cx="591" cy="429.600" r="7.200" fill="#ef9a3c"/><circle cx="591" cy="429.600" r="4.800" fill="#f3ad55"/><circle cx="572.600" cy="419" r="4.500" fill="#ef9a3c"/><circle cx="612.800" cy="430" r="3.500" fill="#ef9a3c"/></g></svg>
<div class="t" style="left:81px;top:45.88px;font-size:12.4px;color:#26282c;transform:scaleX(0.7971)">Close to two-third are hopeful of</div>
<div class="t" style="left:81px;top:59.28px;font-size:12.4px;color:#26282c;transform:scaleX(0.7881)">positive change in the financial</div>
<div class="t" style="left:81px;top:72.68px;font-size:12.4px;color:#26282c;transform:scaleX(0.8000)">sector</div>
<div class="b" style="left:6px;top:93px;width:232px;height:166px;background:#ebf4fc;"></div>
<div class="t k" style="left:17px;top:98.11px;font-size:10.8px;color:#17181a;font-weight:700;transform:scaleX(0.8199)">Do you think, following July uprising, there will be</div>
<div class="t k" style="left:30px;top:110.11px;font-size:10.8px;color:#17181a;font-weight:700;transform:scaleX(0.8222)">a qualitative change in the financial sector?</div>
<div class="b" style="left:14.5px;top:135.1px;width:5.8px;height:5.8px;background:#2b6f64;"></div>
<div class="t h" style="left:23.3px;top:133.51px;font-size:8.4px;color:#2a2a2a;transform:scaleX(0.8740)">Strongly agree</div>
<div class="b" style="left:92.5px;top:135.1px;width:5.8px;height:5.8px;background:#5f9f74;"></div>
<div class="t h" style="left:101.3px;top:133.51px;font-size:8.4px;color:#2a2a2a;transform:scaleX(0.8740)">Somewhat agree</div>
<div class="b" style="left:173px;top:135.1px;width:5.8px;height:5.8px;background:#d8b940;"></div>
<div class="t h" style="left:181.8px;top:133.51px;font-size:8.4px;color:#2a2a2a;transform:scaleX(0.8740)">Difficult to say</div>
<div class="b" style="left:14.5px;top:151.6px;width:5.8px;height:5.8px;background:#e68b2b;"></div>
<div class="t h" style="left:23.3px;top:150.01px;font-size:8.4px;color:#2a2a2a;transform:scaleX(0.8740)">Somewhat disagree</div>
<div class="b" style="left:104px;top:151.6px;width:5.8px;height:5.8px;background:#ba522e;"></div>
<div class="t h" style="left:112.8px;top:150.01px;font-size:8.4px;color:#2a2a2a;transform:scaleX(0.8740)">Strongly disagree</div>
<div class="b" style="left:186px;top:151.6px;width:5.8px;height:5.8px;background:#8aa9c5;"></div>
<div class="t h" style="left:194.8px;top:150.01px;font-size:8.4px;color:#2a2a2a;transform:scaleX(0.8740)">No opinion</div>
<div class="b" style="left:17px;top:174px;width:209.5px;height:66px;background:#cfe5f7;"></div>
<div class="b" style="left:121.3px;top:174px;width:0.5px;height:68px;background:#9fb4c6;"></div>
<div class="b" style="left:226px;top:174px;width:0.5px;height:68px;background:#9fb4c6;"></div>
<div class="b" style="left:17px;top:181.5px;width:65px;height:50.7px;background:#2b6f64;"></div>
<div class="t k" style="left:43.3px;top:203.58px;font-size:8.4px;color:#eef3f1;font-weight:700;transform:scaleX(0.7400)">31%</div>
<div class="b" style="left:82px;top:181.5px;width:68px;height:50.7px;background:#5f9f74;"></div>
<div class="t k" style="left:109.8px;top:203.58px;font-size:8.4px;color:#eef3f1;font-weight:700;transform:scaleX(0.7400)">33%</div>
<div class="b" style="left:150px;top:181.5px;width:13px;height:50.7px;background:#d8b940;"></div>
<div class="t k" style="left:152.02px;top:203.58px;font-size:8.4px;color:#eef3f1;font-weight:700;transform:scaleX(0.7400)">6%</div>
<div class="b" style="left:163px;top:181.5px;width:18.5px;height:50.7px;background:#e68b2b;"></div>
<div class="t k" style="left:167.77px;top:203.58px;font-size:8.4px;color:#eef3f1;font-weight:700;transform:scaleX(0.7400)">9%</div>
<div class="b" style="left:181.5px;top:181.5px;width:18.5px;height:50.7px;background:#ba522e;"></div>
<div class="t k" style="left:186.27px;top:203.58px;font-size:8.4px;color:#eef3f1;font-weight:700;transform:scaleX(0.7400)">9%</div>
<div class="b" style="left:200px;top:181.5px;width:26.5px;height:50.7px;background:#8aa9c5;"></div>
<div class="t k" style="left:207.05px;top:203.58px;font-size:8.4px;color:#eef3f1;font-weight:700;transform:scaleX(0.7400)">13%</div>
<div class="b" style="left:16.6px;top:174px;width:0.7px;height:68px;background:#5d6b78;"></div>
<div class="b" style="left:16.6px;top:239.6px;width:209.9px;height:0.7px;background:#5d6b78;"></div>
<div class="t k" style="left:13.32px;top:244.58px;font-size:7.6px;color:#222;font-weight:700;transform:scaleX(0.7800)">0%</div>
<div class="t k" style="left:115.57px;top:244.58px;font-size:7.6px;color:#222;font-weight:700;transform:scaleX(0.7800)">50%</div>
<div class="t k" style="left:217.42px;top:244.58px;font-size:7.6px;color:#222;font-weight:700;transform:scaleX(0.7800)">100%</div>
</section>
<section class="panel" style="left:297.5px;top:631px;width:495px;height:122.6px;background:#fbe6bb;">
<div class="b" style="left:0px;top:0px;width:74.5px;height:122.6px;background:#d07f33;"></div>
<span class="t h" style="left:17.07px;top:19.27px;font-size:13px;color:#fbf0dc;font-weight:700;letter-spacing:1.6px;transform:scaleX(0.5800)">CITIZENS</span>
<span class="t h" style="left:11.39px;top:33.77px;font-size:13px;color:#fbf0dc;font-weight:700;letter-spacing:1.6px;transform:scaleX(0.5800)">GIVE UP ON</span>
<span class="t h" style="left:13.23px;top:48.27px;font-size:13px;color:#fbf0dc;font-weight:700;letter-spacing:1.6px;transform:scaleX(0.5800)">RECOVERY</span>
<span class="t h" style="left:31.8px;top:62.77px;font-size:13px;color:#fbf0dc;font-weight:700;letter-spacing:1.6px;transform:scaleX(0.5800)">OF</span>
<span class="t h" style="left:10.12px;top:77.27px;font-size:13px;color:#fbf0dc;font-weight:700;letter-spacing:1.6px;transform:scaleX(0.5800)">LAUNDERED</span>
<span class="t h" style="left:21.82px;top:91.77px;font-size:13px;color:#fbf0dc;font-weight:700;letter-spacing:1.6px;transform:scaleX(0.5800)">MONEY</span>
<div class="b" style="left:74.5px;top:0px;width:90px;height:122.6px;background:#f7cf62;"></div>
<svg class="b" style="left:164.5px;top:54px;" width="8" height="14" viewBox="462 685 8 14"><path d="M461.8 686.2L468.6 692 461.8 697.800z" fill="#f7cf62"/></svg>
<svg class="b" style="left:82.5px;top:9px;" width="75" height="60" viewBox="380 640 75 60"><g><path d="M397 654l2.600-10.200 8.800 1.800-1.600 9z" fill="#6cc067"/><path d="M415.400 654.600l3.400-11 6.800 2.400-3.800 9.800z" fill="#6cc067"/><path d="M399.600 652l1.600-6 5 1-1 5.600z" fill="#9bd98f"/><ellipse cx="411.600" cy="652.800" rx="6.400" ry="4.600" fill="#e5823a"/><path d="M394.400 656.200c0-1.600 1.400-2.200 3-2.200h24.800c1.600 0 3 .6 3 2.200v3.200c0 1.400-1.200 2.200-2.600 2.200H397c-1.400 0-2.600-.8-2.600-2.200z" fill="#5b93df"/><path d="M397.600 660.800h24.200c4.600 5.600 8.400 13.400 8.400 21 0 9.400-5.400 14.600-20.400 14.600s-20.400-5.200-20.400-14.600c0-7.600 3.800-15.400 8.200-21z" fill="#4b86d6"/><path d="M397.600 660.800h24.200l1.600 2.200h-27.400z" fill="#3d73c4"/><rect x="418.400" y="682.600" width="10.400" height="3.800" rx="1.600" fill="#f5c469"/><rect x="417" y="686.600" width="11.800" height="3.800" rx="1.600" fill="#efb050"/><rect x="415.600" y="690.600" width="13.200" height="4.600" rx="1.600" fill="#f5c469"/><circle cx="438.200" cy="685.800" r="11" fill="#de8436"/><circle cx="438.200" cy="685.800" r="8" fill="#e9954a"/><path d="M402.800 669.600c2.400-1.600 4.400.2 4.400 2.400v12.400c0 3 3.600 4 6.200 2 2-1.600 3.200-4 3.400-6.200M402.400 676.800h9.600" fill="none" stroke="#fff" stroke-width="1.500" stroke-linecap="round"/><circle cx="416.600" cy="678.400" r="1.500" fill="#fff"/></g></svg>
<div class="t k" style="left:137.11px;top:50.28px;font-size:9.4px;color:#fff;font-weight:700;transform:scaleX(0.8600)">%</div>
<div class="t k" style="left:83.69px;top:74.23px;font-size:9.9px;color:#1f1a10;font-weight:700;transform:scaleX(0.8100)">How much illegally</div>
<div class="t k" style="left:86.58px;top:85.33px;font-size:9.9px;color:#1f1a10;font-weight:700;transform:scaleX(0.8100)">laundered money</div>
<div class="t k" style="left:82.14px;top:96.43px;font-size:9.9px;color:#1f1a10;font-weight:700;transform:scaleX(0.8100)">do you think can be</div>
<div class="t k" style="left:98.13px;top:107.53px;font-size:9.9px;color:#1f1a10;font-weight:700;transform:scaleX(0.8100)">recovered?</div>
<svg class="b" style="left:172.5px;top:4px;" width="320" height="115" viewBox="470 635 320 115"><path d="M561.5 692A53 53 0 0 1 653.39 655.99L638.2 670.05A32.3 32.3 0 0 0 582.2 692Z" fill="#a9d5f3" /><path d="M653.14 655.72A53 53 0 0 1 664.79 708.73L645.15 702.2A32.3 32.3 0 0 0 638.05 669.89Z" fill="#5aa6a9" /><path d="M664.91 708.38A53 53 0 0 1 604.21 743.99L608.23 723.68A32.3 32.3 0 0 0 645.22 701.98Z" fill="#3b6f9f" /><path d="M604.57 744.06A53 53 0 0 1 561.5 691.63L582.2 691.77A32.3 32.3 0 0 0 608.45 723.73Z" fill="#e17a28" /><path d="M561.5 692A53 53 0 0 1 561.53 690.15L582.22 690.87A32.3 32.3 0 0 0 582.2 692Z" fill="#a9d5f3" /><circle cx="614.5" cy="692" r="32.3" fill="#fff"/><g><rect x="-13" y="-7.400" width="26" height="14.800" rx="1" fill="#9ccc4f" transform="translate(615 680.400) rotate(-32)"/><circle cx="614.800" cy="681.400" r="4.400" fill="#bfe07f"/><path d="M596 695c-.6-3 2-4.600 4-3.600 1-2.400 4.400-2.600 5.600-.6 1.400-1.800 4.400-1.600 5.400.4 1.600-1.600 4.400-1.200 5.200.8 1.400-2.400 5-2.400 6.200 0 1.400-2 4.800-1.800 5.800.4 2-1.400 4.800-.2 4.600 2.600z" fill="#a9d2f2"/><path d="M592.800 693h44.600v3.200h-44.600z" fill="#d9dce6"/><path d="M594.200 696.200h41.800l-3.400 15.400h-35z" fill="#b4b9c8"/><path d="M596.800 708.800h36.400l-.6 2.800h-35z" fill="#a3a8ba"/></g><rect x="521.8" y="642" width="2.4" height="25" fill="#a9d5f3"/><path d="M523 655L555 655Q559 655 561.91 657.75L577 672" fill="none" stroke="#111" stroke-width="0.7"/><circle cx="577" cy="672" r="2.0" fill="#111"/><rect x="531.3" y="701" width="2.4" height="44" fill="#e17a28"/><path d="M532.5 723.5L584.5 723.5" fill="none" stroke="#111" stroke-width="0.7"/><circle cx="584.5" cy="723.5" r="2.0" fill="#111"/><rect x="702.8" y="648" width="2.4" height="33" fill="#4a84b0"/><path d="M704 664L676.5 664Q672.5 664 669.63 666.79L654 682" fill="none" stroke="#111" stroke-width="0.7"/><circle cx="654" cy="682" r="2.0" fill="#111"/><rect x="691.8" y="707" width="2.4" height="33" fill="#3b6f9f"/><path d="M693 723.5L644 723.5" fill="none" stroke="#111" stroke-width="0.7"/><circle cx="644" cy="723.5" r="2.0" fill="#111"/></svg>
<div class="t h" style="left:181.97px;top:12.41px;font-size:9.6px;color:#2a2a2a;transform:scaleX(0.8400)">No opinion</div>
<div class="t k" style="left:197.8px;top:25.07px;font-size:12.6px;color:#151515;font-weight:700;transform:scaleX(0.9000)">38%</div>
<div class="t h" style="left:183.85px;top:69.21px;font-size:9.6px;color:#2a2a2a;transform:scaleX(0.8400)">No portion of</div>
<div class="t h" style="left:180.7px;top:80.21px;font-size:9.6px;color:#2a2a2a;transform:scaleX(0.8400)">the laundered</div>
<div class="t h" style="left:205.81px;top:91.21px;font-size:9.6px;color:#2a2a2a;transform:scaleX(0.8400)">money</div>
<div class="t k" style="left:207.3px;top:104.07px;font-size:12.6px;color:#151515;font-weight:700;transform:scaleX(0.9000)">22%</div>
<div class="t h" style="left:411.5px;top:16.41px;font-size:9.6px;color:#2a2a2a;transform:scaleX(0.8400)">Most/significant of</div>
<div class="t h" style="left:411.5px;top:27.41px;font-size:9.6px;color:#2a2a2a;transform:scaleX(0.8400)">the laundered money</div>
<div class="t k" style="left:411.5px;top:40.07px;font-size:12.6px;color:#151515;font-weight:700;transform:scaleX(0.9000)">17%</div>
<div class="t h" style="left:400.5px;top:75.21px;font-size:9.6px;color:#2a2a2a;transform:scaleX(0.8400)">Some/negligible portion</div>
<div class="t h" style="left:400.5px;top:86.01px;font-size:9.6px;color:#2a2a2a;transform:scaleX(0.8400)">of the laundered money</div>
<div class="t k" style="left:400.5px;top:98.87px;font-size:12.6px;color:#151515;font-weight:700;transform:scaleX(0.9000)">23%</div>
</section>
<section class="panel" style="left:9px;top:759.5px;width:254.5px;height:260.5px;background:#e3edd8;">
<div class="b" style="left:0px;top:0px;width:254.5px;height:35.9px;background:#1d8a6e;"></div>
<span class="t h" style="left:31px;top:5.07px;font-size:13.6px;color:#f4f8ee;font-weight:700;letter-spacing:1.5px;transform:scaleX(0.5596)">NATION SPLITS OVER TIMING OF NATIONAL</span>
<span class="t h" style="left:75px;top:19.87px;font-size:13.6px;color:#f4f8ee;font-weight:700;letter-spacing:1.5px;transform:scaleX(0.5650)">PARLIAMENT ELECTION</span>
<svg class="b" style="left:7.6px;top:45px" width="4.4" height="5.6" viewBox="0 0 4.4 5.6"><path d="M0 0L4.4 2.8L0 5.6Z" fill="#111"/></svg>
<div class="t" style="left:20px;top:43.81px;font-size:7.7px;color:#26282c;transform:scaleX(0.9711)">No timeline for national election gets the majority of the respondents,</div>
<div class="t" style="left:20px;top:54.41px;font-size:7.7px;color:#26282c;transform:scaleX(0.9317)">however, close to half (46%) is for ‘by the end of 2025’</div>
<svg class="b" style="left:7.6px;top:70px" width="4.4" height="5.6" viewBox="0 0 4.4 5.6"><path d="M0 0L4.4 2.8L0 5.6Z" fill="#111"/></svg>
<div class="t" style="left:20px;top:68.81px;font-size:7.7px;color:#26282c;transform:scaleX(0.9659)">Almost a quarter of the citizen-respondents did not share their view</div>
<div class="t" style="left:20px;top:79.41px;font-size:7.7px;color:#26282c;transform:scaleX(0.9710)">on this</div>
<svg class="b" style="left:7.6px;top:95.2px" width="4.4" height="5.6" viewBox="0 0 4.4 5.6"><path d="M0 0L4.4 2.8L0 5.6Z" fill="#111"/></svg>
<div class="t" style="left:20px;top:94.01px;font-size:7.7px;color:#26282c;transform:scaleX(0.9579)">Close to 20% of the citizen-respondents want to see the national</div>
<div class="t" style="left:20px;top:104.81px;font-size:7.7px;color:#26282c;transform:scaleX(0.9575)">election beyond June 2026</div>
<div class="b" style="left:7px;top:118.5px;width:240px;height:135.3px;background:#fdf4dc;"></div>
<div class="t k" style="left:23px;top:128.46px;font-size:9px;color:#1c8c78;font-weight:700;transform:scaleX(0.8058)">When do you want the next national election to take place?</div>
<div class="b" style="left:157.5px;top:152.5px;width:1px;height:77px;background:repeating-linear-gradient(to bottom,#c4c1b4 0 1.6px,transparent 1.6px 4.4px)"></div>
<div class="b" style="left:231.5px;top:152.5px;width:1px;height:77px;background:repeating-linear-gradient(to bottom,#c4c1b4 0 1.6px,transparent 1.6px 4.4px)"></div>
<div class="b" style="left:85px;top:155.8px;width:135.01px;height:12.5px;background:#56a158;"></div>
<div class="t k h" style="left:201.3px;top:157.78px;font-size:9.6px;color:#f2f7e8;font-weight:700;transform:scaleX(0.7400)">46%</div>
<div class="t" style="left:18.2px;top:157.48px;font-size:8.1px;color:#333;transform:scaleX(0.9300)">By the end of 2025</div>
<div class="b" style="left:85px;top:175.3px;width:35.22px;height:12.5px;background:#56a158;"></div>
<div class="t k h" style="left:101.51px;top:177.28px;font-size:9.6px;color:#f2f7e8;font-weight:700;transform:scaleX(0.7400)">12%</div>
<div class="t" style="left:21.97px;top:176.98px;font-size:8.1px;color:#333;transform:scaleX(0.9300)">Before June 2026</div>
<div class="b" style="left:85px;top:194.8px;width:52.83px;height:12.5px;background:#56a158;"></div>
<div class="t k h" style="left:119.12px;top:196.78px;font-size:9.6px;color:#f2f7e8;font-weight:700;transform:scaleX(0.7400)">18%</div>
<div class="t" style="left:18.61px;top:196.48px;font-size:8.1px;color:#333;transform:scaleX(0.9300)">Beyond June 2026</div>
<div class="b" style="left:85px;top:214.1px;width:70.44px;height:12.5px;background:#56a158;"></div>
<div class="t k h" style="left:136.73px;top:216.08px;font-size:9.6px;color:#f2f7e8;font-weight:700;transform:scaleX(0.7400)">24%</div>
<div class="t" style="left:45.41px;top:215.78px;font-size:8.1px;color:#333;transform:scaleX(0.9300)">No opinion</div>
<div class="b" style="left:84.6px;top:152.5px;width:0.8px;height:77.5px;background:#706d66;"></div>
<div class="t" style="left:81.22px;top:233.23px;font-size:7.7px;color:#3a3a3a;transform:scaleX(0.9500)">0%</div>
<div class="t" style="left:153.19px;top:233.23px;font-size:7.7px;color:#3a3a3a;transform:scaleX(0.9500)">25%</div>
<div class="t" style="left:225.19px;top:233.23px;font-size:7.7px;color:#3a3a3a;transform:scaleX(0.9500)">50%</div>
</section>
<section class="panel" style="left:270px;top:759.5px;width:258.5px;height:260.5px;background:#e3edd8;">
<div class="b" style="left:0px;top:0px;width:258.5px;height:35.9px;background:#1d8a6e;"></div>
<span class="t h" style="left:26px;top:5.07px;font-size:13.6px;color:#f4f8ee;font-weight:700;letter-spacing:1.5px;transform:scaleX(0.5544)">CITIZENS ARE OPTIMISTIC ABOUT ELECTORAL</span>
<span class="t h" style="left:106.5px;top:19.87px;font-size:13.6px;color:#f4f8ee;font-weight:700;letter-spacing:1.5px;transform:scaleX(0.5782)">REFORMS</span>
<svg class="b" style="left:13px;top:44.6px" width="4.6" height="5.8" viewBox="0 0 4.6 5.8"><path d="M0 0L4.6 2.9L0 5.8Z" fill="#111"/></svg>
<div class="t k" style="left:24px;top:43.07px;font-size:7.6px;color:#1b1b1b;font-weight:700;transform:scaleX(0.9610)">Citizens are predominantly (83% of respondents) optimistic</div>
<div class="t k" style="left:24px;top:54.07px;font-size:7.6px;color:#1b1b1b;font-weight:700;transform:scaleX(0.9576)">about electoral reforms. Of which:</div>
<div class="b" style="left:51.9px;top:71.8px;width:5px;height:5px;border-radius:50%;background:#7aa354"></div>
<div class="t k" style="left:63px;top:69.89px;font-size:8.6px;color:#4c8a4e;font-weight:700;transform:scaleX(0.9936)">53% are highly optimistic</div>
<div class="b" style="left:51.9px;top:84.5px;width:5px;height:5px;border-radius:50%;background:#7aa354"></div>
<div class="t k" style="left:63px;top:82.59px;font-size:8.6px;color:#4c8a4e;font-weight:700;transform:scaleX(0.9967)">28% are somewhat optimistic</div>
<div class="b" style="left:6px;top:99.5px;width:245px;height:154.3px;background:#fdf4dc;"></div>
<div class="t k" style="left:27px;top:106.77px;font-size:8.8px;color:#1c8c78;font-weight:700;transform:scaleX(0.8199)">For a free and fair next national election, how optimistic are</div>
<div class="t k" style="left:24px;top:116.97px;font-size:8.8px;color:#1c8c78;font-weight:700;transform:scaleX(0.8198)">you of the minimum required electoral reforms to take place?</div>
<div class="b" style="left:145px;top:134.5px;width:1px;height:102px;background:repeating-linear-gradient(to bottom,#c4c1b4 0 1.6px,transparent 1.6px 4.4px)"></div>
<div class="b" style="left:188.7px;top:134.5px;width:1px;height:102px;background:repeating-linear-gradient(to bottom,#c4c1b4 0 1.6px,transparent 1.6px 4.4px)"></div>
<div class="b" style="left:232.5px;top:134.5px;width:1px;height:102px;background:repeating-linear-gradient(to bottom,#c4c1b4 0 1.6px,transparent 1.6px 4.4px)"></div>
<div class="b" style="left:101.5px;top:138.5px;width:92.86px;height:11.3px;background:#a9553b;"></div>
<div class="t k h" style="left:198.96px;top:139.98px;font-size:9.6px;color:#a9553b;font-weight:700;transform:scaleX(0.8300)">53%</div>
<div class="t" style="left:37.3px;top:140.28px;font-size:8.1px;color:#333;transform:scaleX(0.9900)">Highly optimistic</div>
<div class="b" style="left:101.5px;top:155.9px;width:49.06px;height:11.3px;background:#a9553b;"></div>
<div class="t k h" style="left:155.16px;top:157.38px;font-size:9.6px;color:#a9553b;font-weight:700;transform:scaleX(0.8300)">28%</div>
<div class="t" style="left:21.71px;top:157.68px;font-size:8.1px;color:#333;transform:scaleX(0.9900)">Somewhat optimistic</div>
<div class="b" style="left:101.5px;top:173.2px;width:5.26px;height:11.3px;background:#a9553b;"></div>
<div class="t k h" style="left:111.36px;top:174.68px;font-size:9.6px;color:#a9553b;font-weight:700;transform:scaleX(0.8300)">3%</div>
<div class="t" style="left:45.47px;top:174.98px;font-size:8.1px;color:#333;transform:scaleX(0.9900)">Difficult to say</div>
<div class="b" style="left:101.5px;top:190.5px;width:5.26px;height:11.3px;background:#a9553b;"></div>
<div class="t k h" style="left:111.36px;top:191.98px;font-size:9.6px;color:#a9553b;font-weight:700;transform:scaleX(0.8300)">3%</div>
<div class="t" style="left:15.92px;top:192.28px;font-size:8.1px;color:#333;transform:scaleX(0.9900)">Somewhat pessimistic</div>
<div class="b" style="left:101.5px;top:207.7px;width:7.01px;height:11.3px;background:#a9553b;"></div>
<div class="t k h" style="left:113.11px;top:209.18px;font-size:9.6px;color:#a9553b;font-weight:700;transform:scaleX(0.8300)">4%</div>
<div class="t" style="left:31.52px;top:209.48px;font-size:8.1px;color:#333;transform:scaleX(0.9900)">Highly pessimistic</div>
<div class="b" style="left:101.5px;top:224.9px;width:17.52px;height:11.3px;background:#a9553b;"></div>
<div class="t k h" style="left:123.62px;top:226.38px;font-size:9.6px;color:#a9553b;font-weight:700;transform:scaleX(0.8300)">10%</div>
<div class="t" style="left:56.88px;top:226.68px;font-size:8.1px;color:#333;transform:scaleX(0.9900)">No opinion</div>
<div class="b" style="left:101.1px;top:134.5px;width:0.8px;height:102.5px;background:#706d66;"></div>
<div class="t" style="left:97.22px;top:241.03px;font-size:7.7px;color:#3a3a3a;transform:scaleX(0.9500)">0%</div>
<div class="t" style="left:139.19px;top:241.03px;font-size:7.7px;color:#3a3a3a;transform:scaleX(0.9500)">25%</div>
<div class="t" style="left:183.19px;top:241.03px;font-size:7.7px;color:#3a3a3a;transform:scaleX(0.9500)">50%</div>
<div class="t" style="left:227.19px;top:241.03px;font-size:7.7px;color:#3a3a3a;transform:scaleX(0.9500)">75%</div>
</section>
<section class="panel" style="left:534px;top:759.5px;width:258.5px;height:260.5px;background:#e3edd8;">
<div class="b" style="left:0px;top:0px;width:258.5px;height:35.9px;background:#1d8a6e;"></div>
<span class="t h" style="left:20px;top:5.07px;font-size:13.6px;color:#f4f8ee;font-weight:700;letter-spacing:1.5px;transform:scaleX(0.5577)">CITIZENS STILL SHOW RELATIVE CONFIDENCE IN</span>
<span class="t h" style="left:60px;top:19.87px;font-size:13.6px;color:#f4f8ee;font-weight:700;letter-spacing:1.5px;transform:scaleX(0.5503)">POSITIVE CHANGE IN POLITICS.</span>
<svg class="b" style="left:13.5px;top:44.4px" width="5.6" height="7.4" viewBox="0 0 5.6 7.4"><path d="M0 0L5.6 3.7L0 7.4Z" fill="#111"/></svg>
<div class="t" style="left:30px;top:44.41px;font-size:7.7px;color:#26282c;transform:scaleX(0.9643)">A total of 58% of the citizen-respondents are confident that there</div>
<div class="t" style="left:30px;top:55.31px;font-size:7.7px;color:#26282c;transform:scaleX(0.9639)">will be positive changes in politics, of which half of them believe</div>
<div class="t" style="left:30px;top:66.01px;font-size:7.7px;color:#26282c;transform:scaleX(0.9843)">strongly</div>
<svg class="b" style="left:13.5px;top:82.8px" width="5.6" height="7.4" viewBox="0 0 5.6 7.4"><path d="M0 0L5.6 3.7L0 7.4Z" fill="#111"/></svg>
<div class="t" style="left:30px;top:82.01px;font-size:7.7px;color:#26282c;transform:scaleX(0.9691)">Around two-fifth do not have confidence in positive change</div>
<div class="b" style="left:8px;top:99.5px;width:242px;height:154.3px;background:#fdf4dc;"></div>
<div class="t k" style="left:21.5px;top:106.37px;font-size:8.8px;color:#1c8c78;font-weight:700;transform:scaleX(0.8195)">Do you think, following July uprising, will there be a qualitative</div>
<div class="t k" style="left:40px;top:116.57px;font-size:8.8px;color:#1c8c78;font-weight:700;transform:scaleX(0.8156)">change in the politics following the July revolution?</div>
<div class="b" style="left:21.5px;top:134.9px;width:5px;height:5.2px;background:#5b9a4f;"></div>
<div class="t" style="left:28.9px;top:133.81px;font-size:7.7px;color:#2a2a2a;transform:scaleX(0.9700)">Strongly Agree</div>
<div class="b" style="left:90px;top:134.9px;width:5px;height:5.2px;background:#6c9b56;"></div>
<div class="t" style="left:97.4px;top:133.81px;font-size:7.7px;color:#2a2a2a;transform:scaleX(0.9700)">Somewhat Agree</div>
<div class="b" style="left:168.5px;top:134.9px;width:5px;height:5.2px;background:#efba2e;"></div>
<div class="t" style="left:175.9px;top:133.81px;font-size:7.7px;color:#2a2a2a;transform:scaleX(0.9700)">Difficult to say</div>
<div class="b" style="left:21.5px;top:147.3px;width:5px;height:5.2px;background:#da482e;"></div>
<div class="t" style="left:28.9px;top:146.21px;font-size:7.7px;color:#2a2a2a;transform:scaleX(0.9700)">Somewhat Disagree</div>
<div class="b" style="left:110px;top:147.3px;width:5px;height:5.2px;background:#b1292f;"></div>
<div class="t" style="left:117.4px;top:146.21px;font-size:7.7px;color:#2a2a2a;transform:scaleX(0.9700)">Strongly disagree</div>
<div class="b" style="left:190px;top:147.3px;width:5px;height:5.2px;background:#b4b2b6;"></div>
<div class="t" style="left:197.4px;top:146.21px;font-size:7.7px;color:#2a2a2a;transform:scaleX(0.9700)">No opinion</div>
<div class="b" style="left:127.5px;top:161.5px;width:1px;height:67px;background:repeating-linear-gradient(to bottom,#c4c1b4 0 1.6px,transparent 1.6px 4.4px)"></div>
<div class="b" style="left:233px;top:161.5px;width:1px;height:67px;background:repeating-linear-gradient(to bottom,#c4c1b4 0 1.6px,transparent 1.6px 4.4px)"></div>
<div class="b" style="left:21px;top:175.1px;width:62px;height:42.4px;background:#5b9a4f;"></div>
<div class="t k" style="left:48.31px;top:192.28px;font-size:8.8px;color:#f1f5e8;font-weight:700;transform:scaleX(0.7600)">29%</div>
<div class="b" style="left:83px;top:175.1px;width:61px;height:42.4px;background:#6c9b56;"></div>
<div class="t k" style="left:109.81px;top:192.28px;font-size:8.8px;color:#f1f5e8;font-weight:700;transform:scaleX(0.7600)">29%</div>
<div class="b" style="left:144px;top:175.1px;width:13px;height:42.4px;background:#efba2e;"></div>
<div class="t k" style="left:145.67px;top:192.28px;font-size:8.8px;color:#222;font-weight:700;transform:scaleX(0.7600)">6%</div>
<div class="b" style="left:157px;top:175.1px;width:21px;height:42.4px;background:#da482e;"></div>
<div class="t k" style="left:160.81px;top:192.28px;font-size:8.8px;color:#fbe9e0;font-weight:700;transform:scaleX(0.7600)">10%</div>
<div class="b" style="left:178px;top:175.1px;width:17px;height:42.4px;background:#b1292f;"></div>
<div class="t k" style="left:181.67px;top:192.28px;font-size:8.8px;color:#fbe9e0;font-weight:700;transform:scaleX(0.7600)">8%</div>
<div class="b" style="left:195px;top:175.1px;width:38.5px;height:42.4px;background:#b4b2b6;"></div>
<div class="t k" style="left:207.56px;top:192.28px;font-size:8.8px;color:#222;font-weight:700;transform:scaleX(0.7600)">18%</div>
<div class="b" style="left:20.6px;top:161.5px;width:0.8px;height:67px;background:#706d66;"></div>
<div class="t" style="left:16.22px;top:231.23px;font-size:7.7px;color:#3a3a3a;transform:scaleX(0.9500)">0%</div>
<div class="t" style="left:120.69px;top:231.23px;font-size:7.7px;color:#3a3a3a;transform:scaleX(0.9500)">50%</div>
<div class="t" style="left:223.66px;top:231.23px;font-size:7.7px;color:#3a3a3a;transform:scaleX(0.9500)">100%</div>
</section>
</div>
</body>
</html>
